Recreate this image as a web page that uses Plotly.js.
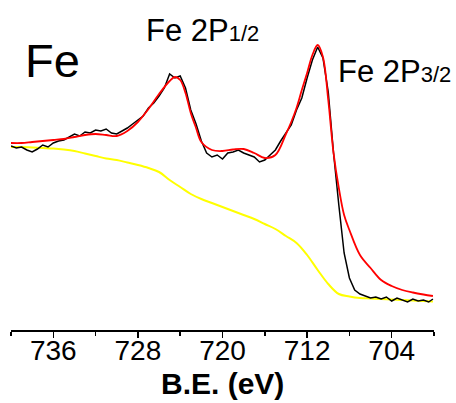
<!DOCTYPE html>
<html>
<head>
<meta charset="utf-8">
<script src="https://cdn.plot.ly/plotly-3.0.1.min.js"></script>
<style>html,body{margin:0;padding:0;background:#fff;}#chart{width:456px;height:403px;}</style>
</head>
<body>
<div id="chart"></div>
<script>
// Binding energy (eV) of measured spectrum
const dataBE = [740,739.5,739,738.5,738,737.5,737,736.5,736,735.5,735,734.5,734,733.5,733,732.5,732,731.5,731,730.5,730,729.5,729,728.5,728,727.5,727,726.5,726,725.5,725,724.5,724,723.5,723,722.5,722,721.5,721,720.5,720,719.5,719,718.5,718,717.5,717,716.5,716,715.5,715,714.5,714,713.5,713,712.5,712,711.5,711,710.5,710,709.5,709,708.5,708,707.5,707,706.5,706,705.5,705,704.5,704,703.5,703,702.5,702,701.5,701,700.5,700.1];
// Measured intensity (a.u.)
const dataInt = [184,182,183,180,178,181,185,183,187,189,190,193,196,194,198,197,200,199,201,197,196,199,202,206,210,214,222,227,234,242,256,252,254,242,220,206,189,177,173,175,171,177,178,180,177,175,173,168,170,175,180,189,197,205,220,232,252,270,283,272,238,177,125,77,52,40,36,34,32,33,31,33,29,32,30,28,31,29,30,28,31];
// Fit envelope
const fitBE = [740,739,738,737,736,735,734,733,732,731,730,729,728,727,726,725,724.5,724,723.5,723,722.5,722,721,720,719,718,717,716,715,714,713.5,713,712.5,712,711.5,711,710.5,710,709.5,709,708.5,708,707,706,705,704,703,702,701,700.1];
const fitInt = [187,187,188,189,190,191,193,195,196,195,194,199,208,221,236,249,253,250,237,217,202,188,180,179,180.5,181,177,172,175,196,208,222,240,257,275,285,273,230,177,142,115,100,75,62,50,44,40,37.5,35.5,34];
// Shirley background
const bgBE = [740,739,738,737,736,735,734,733,732,731,730,729,728,727,726,725,724,723,722,721,720,719,718,717,716,715,714,713,712,711,710,709,708,707,706,705,704,703,702,701,700.1];
const bgInt = [183,183,182.5,182,181.5,180.5,179,176.5,174,171.5,170,167.5,165,162,158,150,143,136,131,127,123,119,115,111,106,101,94,87,75,60,46,36,33.5,32,31.5,31,30.5,30,29.5,29,28.5];
// Tick labels
const tickVals = [736, 728, 720, 712, 704];
const tickText = ['736', '728', '720', '712', '704'];
const minorVals = [740, 732, 724, 716, 708, 700];

const traces = [
  {x: bgBE, y: bgInt, mode: 'lines', line: {color: '#ffff00', width: 2, shape: 'spline'}, hoverinfo: 'skip'},
  {x: dataBE, y: dataInt, mode: 'lines', line: {color: '#000000', width: 1.5}, hoverinfo: 'skip'},
  {x: fitBE, y: fitInt, mode: 'lines', line: {color: '#ff0000', width: 1.8, shape: 'spline'}, hoverinfo: 'skip'},
  {x: [dataBE[0]], y: [dataInt[0]], xaxis: 'x2', mode: 'markers', marker: {opacity: 0}, hoverinfo: 'skip'}
];

const H = 403;
const layout = {
  width: 456, height: H,
  margin: {l: 11, r: 22, t: 0, b: 0},
  paper_bgcolor: '#fff', plot_bgcolor: '#fff',
  showlegend: false,
  font: {family: 'Liberation Sans, Arial, sans-serif', color: '#000'},
  xaxis: {
    range: [740, 700], autorange: false, anchor: 'y',
    tickvals: tickVals, showticklabels: false,
    ticks: 'outside', ticklen: 6, tickwidth: 1.5, tickcolor: '#000',
    minor: {tickvals: minorVals, ticks: 'outside', ticklen: 4, tickwidth: 1.5, tickcolor: '#000'},
    showline: true, linecolor: '#000', linewidth: 1.5,
    showgrid: false, zeroline: false
  },
  xaxis2: {
    range: [740, 700], autorange: false, overlaying: 'x', anchor: 'free', position: (H - 331) / H,
    tickvals: tickVals, ticktext: tickText, ticks: '', showline: false,
    showgrid: false, zeroline: false,
    tickfont: {size: 28, color: '#000'}
  },
  yaxis: {range: [0, 330], autorange: false, domain: [(H - 330) / H, 1], visible: false, showgrid: false, zeroline: false},
  annotations: [
    {x: 0.5, y: 0.002, xref: 'paper', yref: 'paper', text: '<b>B.E. (eV)</b>', showarrow: false, xanchor: 'center', yanchor: 'bottom', font: {size: 30, color: '#000'}},
    {x: 736.08, y: 269.5, xref: 'x', yref: 'y', text: 'Fe', showarrow: false, xanchor: 'center', yanchor: 'middle', font: {size: 47, color: '#000'}},
    {x: 721.89, y: 300, xref: 'x', yref: 'y', text: 'Fe 2P<span style="font-size:22px">1/2</span>', showarrow: false, xanchor: 'center', yanchor: 'middle', font: {size: 31, color: '#000'}},
    {x: 703.69, y: 258.5, xref: 'x', yref: 'y', text: 'Fe 2P<span style="font-size:22px">3/2</span>', showarrow: false, xanchor: 'center', yanchor: 'middle', font: {size: 31, color: '#000'}}
  ]
};

Plotly.newPlot('chart', traces, layout, {staticPlot: true, displayModeBar: false});
</script>
</body>
</html>
